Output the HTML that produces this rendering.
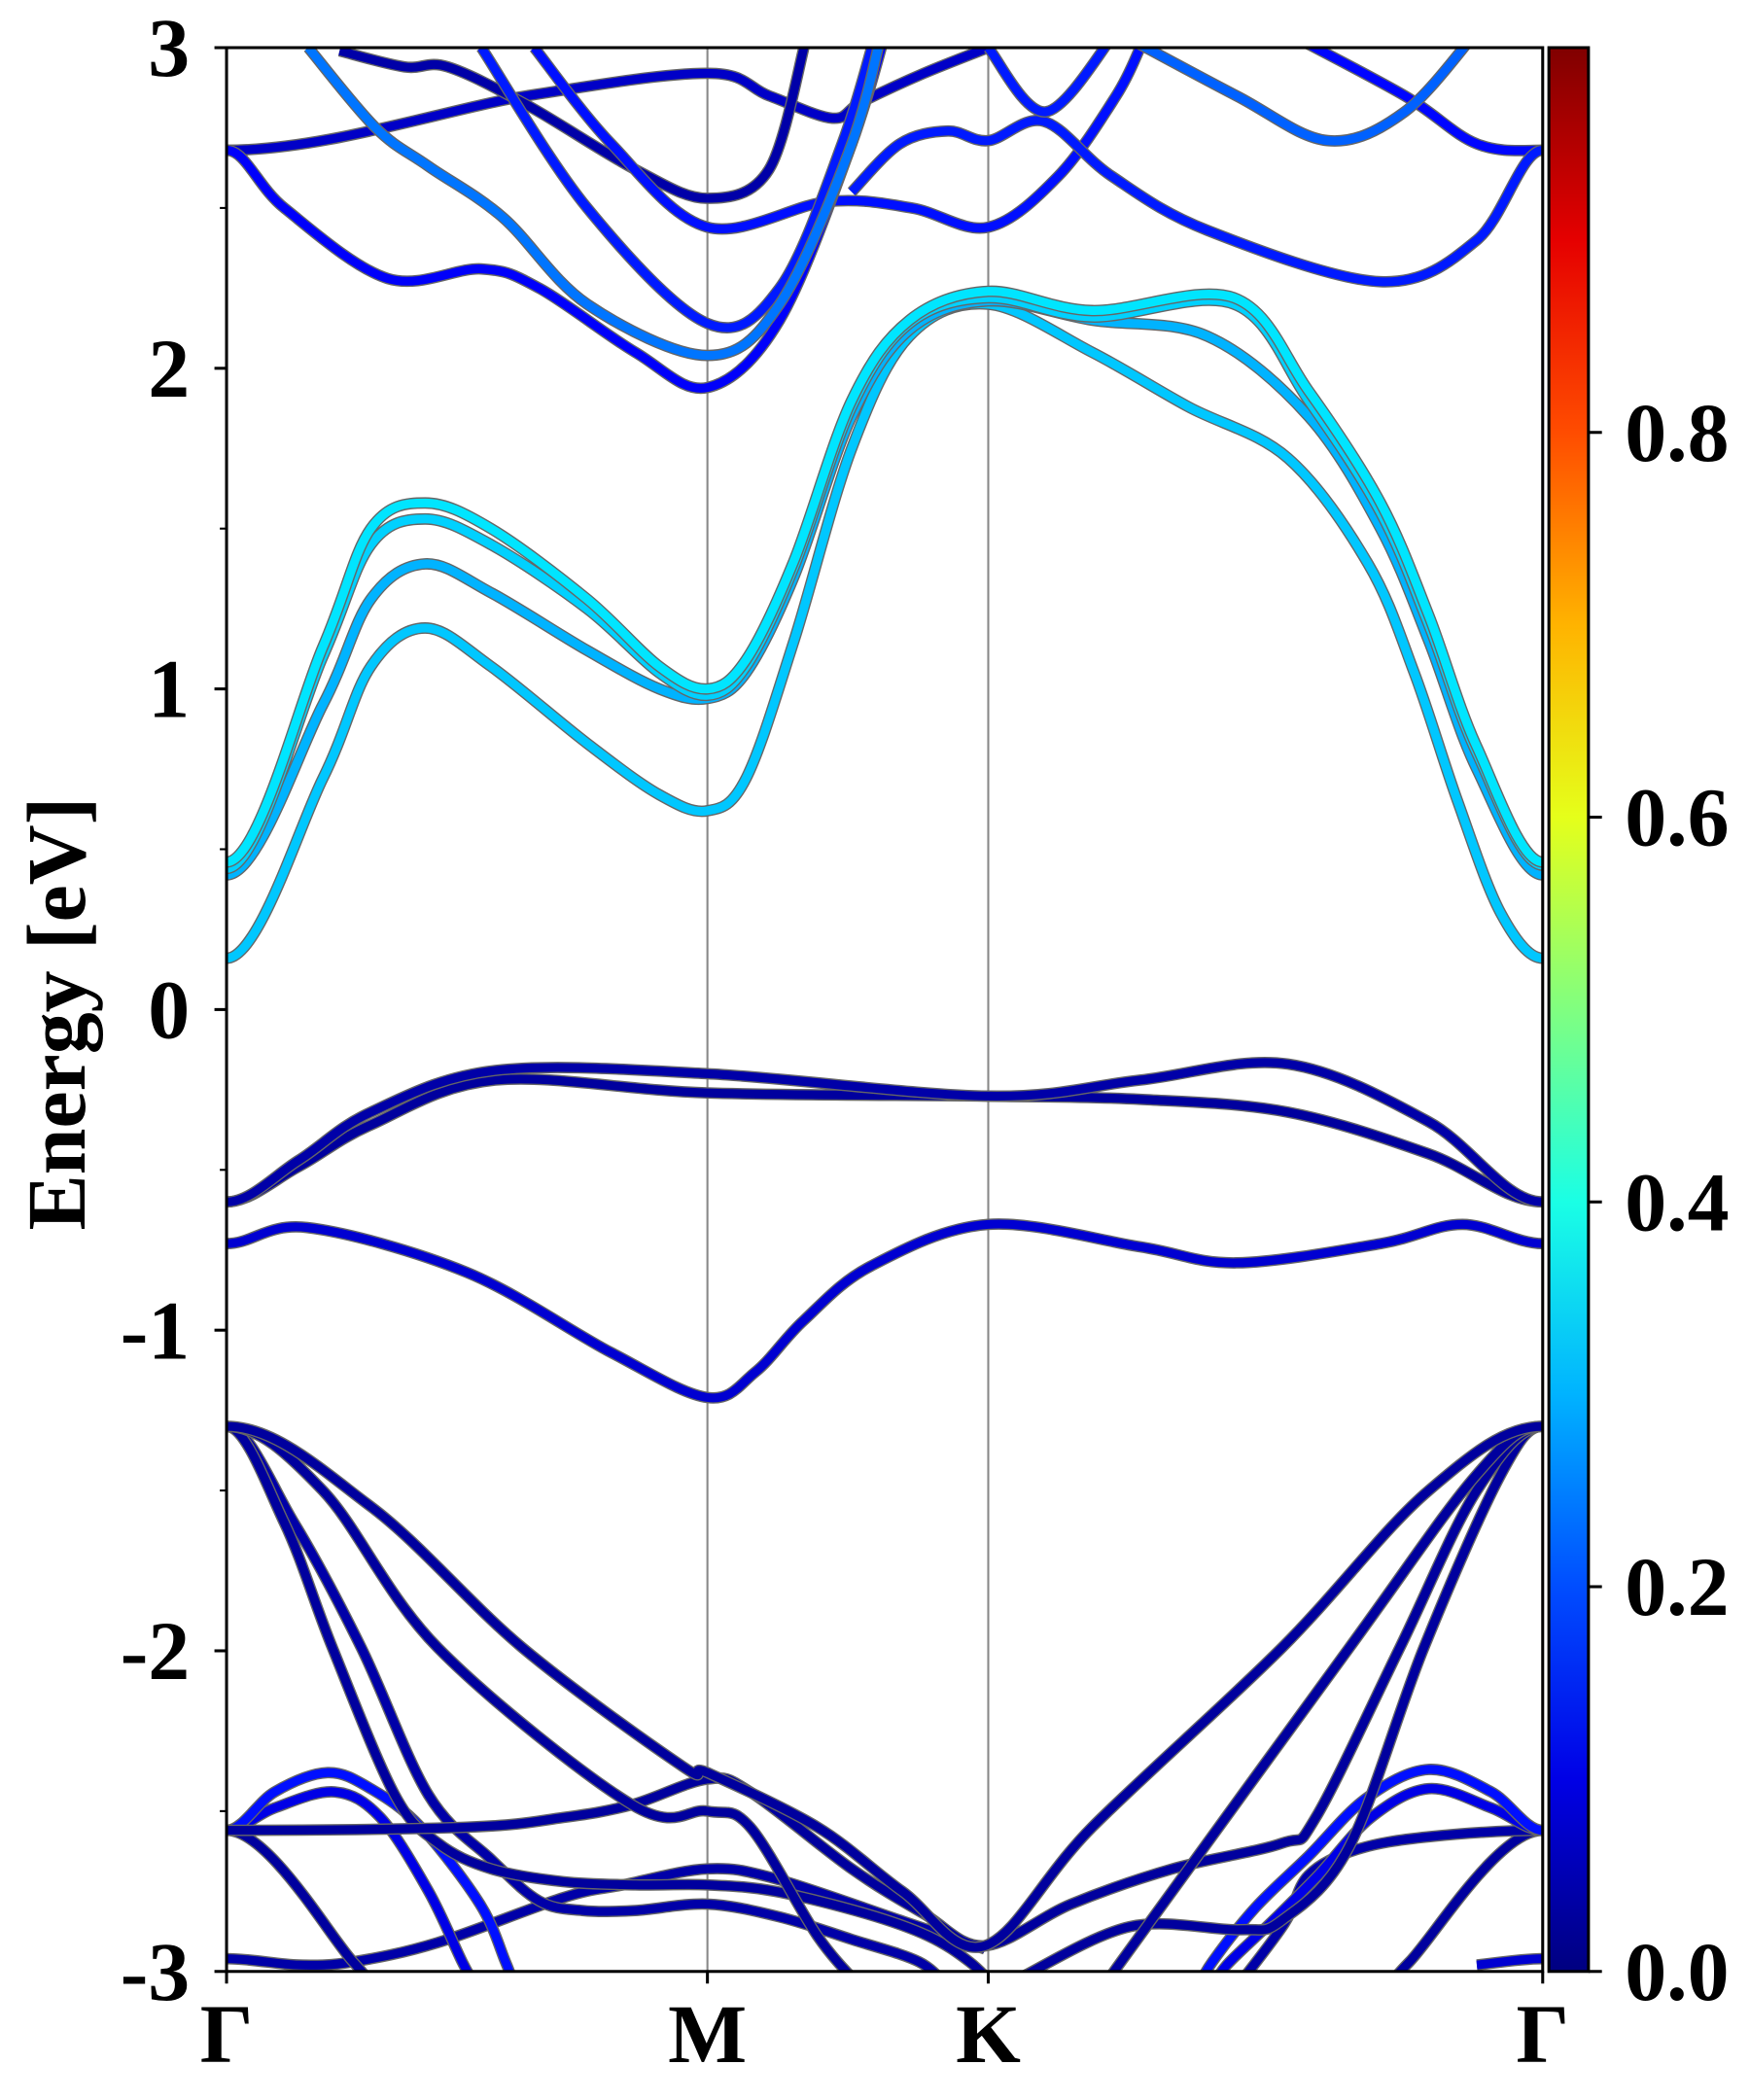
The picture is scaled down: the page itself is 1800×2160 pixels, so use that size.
<!DOCTYPE html>
<html><head><meta charset="utf-8"><style>
html,body{margin:0;padding:0;background:#fff;}
svg{display:block;}
text{font-family:"Liberation Serif",serif;font-weight:bold;fill:#000;}
</style></head><body>
<svg id="chart" width="1800" height="2160" viewBox="0 0 1300 1560" xmlns="http://www.w3.org/2000/svg">
<defs>
<clipPath id="clip"><rect x="168.3" y="35.4" width="977.7" height="1429.1"/></clipPath>
<linearGradient id="jet" x1="0" y1="1" x2="0" y2="0"></linearGradient>
</defs>
<g id="bands" clip-path="url(#clip)"></g>
<g id="axes"></g>
</svg>
<script>
const kTicks=[0,1,1.584,2.737];
const kLabels=["Γ","M","K","Γ"];
const eTicks=[3,2,1,0,-1,-2,-3];
const eTickLabels=["3","2","1","0","-1","-2","-3"];
const cbTicks=[0,0.2,0.4,0.6,0.8];
const cbTickLabels=["0.0","0.2","0.4","0.6","0.8"];
// conduction bands
const kC1=[0,0.2,0.3,0.413,0.55,0.75,0.9,1,1.08,1.18,1.3,1.42,1.584,1.8,2.0,2.207,2.374,2.47,2.56,2.65,2.737];
const c1E=[0.16,0.72,1.07,1.19,1.07,0.83,0.67,0.62,0.72,1.15,1.75,2.1,2.2,2.05,1.88,1.72,1.39,1.05,0.65,0.3,0.16];
const kC2=[0,0.2,0.3,0.413,0.55,0.75,0.9,1,1.08,1.18,1.3,1.42,1.584,1.8,2.04,2.25,2.4,2.5,2.6,2.737];
const c2E=[0.42,0.95,1.28,1.39,1.3,1.12,1.0,0.97,1.05,1.35,1.85,2.12,2.21,2.15,2.1,1.85,1.5,1.15,0.75,0.42];
const kC3=[0,0.2,0.3,0.413,0.55,0.75,0.9,1,1.08,1.18,1.3,1.42,1.584,1.8,2.095,2.25,2.4,2.5,2.6,2.737];
const c3E=[0.44,1.1,1.45,1.53,1.45,1.25,1.05,0.98,1.07,1.38,1.88,2.14,2.22,2.16,2.2,1.9,1.55,1.2,0.8,0.45];
const c4E=[0.46,1.13,1.5,1.58,1.5,1.28,1.07,1.0,1.09,1.4,1.9,2.15,2.24,2.18,2.22,1.93,1.58,1.23,0.82,0.46];
// valence
const kV=[0,0.15,0.3,0.559,1,1.584,1.9,2.207,2.5,2.737];
const v1E=[-0.6,-0.47,-0.32,-0.19,-0.2,-0.27,-0.22,-0.17,-0.35,-0.6];
const v2E=[-0.6,-0.49,-0.36,-0.22,-0.26,-0.27,-0.28,-0.32,-0.45,-0.6];
const kV3=[0,0.168,0.5,0.8,1,1.1,1.2,1.34,1.584,1.9,2.1,2.4,2.57,2.737];
const v3E=[-0.73,-0.68,-0.82,-1.07,-1.21,-1.13,-0.97,-0.8,-0.67,-0.74,-0.79,-0.73,-0.67,-0.73];
// deep bands
const kDa=[0,0.3,0.615,0.948,1,1.229,1.405,1.577,1.8,2.195,2.5,2.737];
const daE=[-1.3,-1.55,-1.99,-2.36,-2.38,-2.55,-2.75,-2.92,-2.55,-1.99,-1.5,-1.3];
const kDb=[0,0.2,0.439,0.843,1,1.089,1.229,1.32];
const dbE=[-1.3,-1.5,-1.99,-2.48,-2.5,-2.55,-2.89,-3.05];
const kDbR=[1.8,1.86,2.335,2.6,2.737];
const dbRE=[-3.1,-2.97,-1.99,-1.45,-1.3];
const kDc=[0,0.12,0.22,0.35,0.44,0.55,0.7,0.85,1,1.14,1.33,1.46,1.545,1.6];
const dcE=[-1.3,-1.6,-1.99,-2.45,-2.6,-2.68,-2.72,-2.73,-2.73,-2.75,-2.82,-2.89,-2.97,-3.05];
const kDd=[0,0.14,0.28,0.42,0.55,0.65,0.74,0.85,1,1.15,1.3,1.44,1.5];
const ddE=[-1.3,-1.6,-1.99,-2.45,-2.65,-2.78,-2.81,-2.81,-2.79,-2.83,-2.9,-2.97,-3.05];
const kF=[0,0.5,0.7,0.843,1,1.089,1.3,1.45,1.577,1.756,1.967,2.195,2.265,2.44,2.6,2.737];
const fE=[-2.56,-2.55,-2.52,-2.48,-2.4,-2.44,-2.68,-2.82,-2.92,-2.79,-2.68,-2.6,-2.52,-1.99,-1.5,-1.3];
const kDe=[1.65,1.879,2.107,2.195,2.335,2.49,2.65,2.737];
const deE=[-3.02,-2.86,-2.87,-2.84,-2.61,-1.99,-1.45,-1.3];
const kFR=[2.737,2.5,2.35,2.25,2.2,2.1];
const fRE=[-2.56,-2.58,-2.62,-2.7,-2.85,-3.05];
const kG=[0,0.263,0.3];
const gE=[-2.56,-2.97,-3.05];
const kGR=[2.737,2.46,2.42];
const gRE=[-2.56,-2.97,-3.05];
const kLow=[0,0.15,0.263,0.439,0.7,0.825,1,1.14,1.4,1.577];
const lowE=[-2.96,-2.98,-2.97,-2.91,-2.77,-2.73,-2.68,-2.71,-2.84,-2.93];
const kLowR=[2.6,2.737];
const lowRE=[-2.98,-2.96];
const kB1=[0,0.1,0.21,0.3,0.404,0.527,0.58,0.6];
const b1E=[-2.56,-2.44,-2.38,-2.43,-2.55,-2.79,-2.97,-3.05];
const kB1b=[0,0.1,0.225,0.32,0.42,0.49,0.52];
const b1bE=[-2.56,-2.49,-2.44,-2.52,-2.75,-2.97,-3.05];
const kB2=[2.737,2.63,2.5,2.37,2.25,2.14,2.05,2.02];
const b2E=[-2.56,-2.44,-2.37,-2.46,-2.64,-2.8,-2.97,-3.05];
const kB2b=[2.737,2.63,2.5,2.38,2.27,2.17,2.08,2.05];
const b2bE=[-2.56,-2.49,-2.43,-2.52,-2.7,-2.85,-2.98,-3.05];
// upper bands
const kH1=[0,0.12,0.335,0.53,0.65,0.85,1,1.15,1.3,1.38];
const h1E=[2.68,2.5,2.28,2.31,2.25,2.05,1.94,2.15,2.7,3.1];
const kH2=[0.17,0.31,0.42,0.575,0.75,1,1.15,1.3,1.37];
const h2E=[3.0,2.75,2.63,2.47,2.2,2.04,2.2,2.7,3.1];
const kH3=[0.53,0.75,1,1.15,1.28,1.36];
const h3E=[3.0,2.5,2.14,2.25,2.7,3.1];
const kHB=[0.235,0.37,0.46,0.626,0.85,1,1.128,1.204];
const hbE=[2.99,2.94,2.94,2.82,2.62,2.53,2.62,3.02];
const kHC=[0,0.626,1,1.128,1.26,1.32,1.45,1.584];
const hcE=[2.68,2.85,2.92,2.85,2.78,2.83,2.92,3.0];
const kHG=[0.64,0.8,1,1.25,1.425,1.584,1.73,1.85,1.9];
const hgE=[3.0,2.7,2.44,2.52,2.5,2.44,2.6,2.85,3.0];
const kH7=[1.3,1.4,1.5,1.584,1.7,1.84,2.04,2.4,2.6,2.737];
const h7E=[2.55,2.7,2.74,2.71,2.77,2.6,2.43,2.27,2.4,2.68];
const kH8=[1.584,1.704,1.85];
const h8E=[3.0,2.8,3.05];
const kH9=[1.85,2.1,2.29,2.45,2.6];
const h9E=[3.05,2.85,2.71,2.8,3.05];
const kH10=[2.2,2.45,2.6,2.737];
const h10E=[3.05,2.85,2.7,2.68];

const X0=168.3,X1=1146,Y0=35.4,Y1=1464.5,KMAX=2.737,EMIN=-3,EMAX=3;
function xs(k){return X0+(k/KMAX)*(X1-X0);}
function ys(e){return Y1-(e-EMIN)/(EMAX-EMIN)*(Y1-Y0);}
function cl(v){return Math.max(0,Math.min(1,v));}
function jet(v){const r=cl(1.5-Math.abs(4*v-3)),g=cl(1.5-Math.abs(4*v-2)),b=cl(1.5-Math.abs(4*v-1));
return `rgb(${Math.round(r*255)},${Math.round(g*255)},${Math.round(b*255)})`;}
const NS="http://www.w3.org/2000/svg";
function isEdge(k){return k===0||k===KMAX;}
function path(ks,es){
  const p=ks.map((k,i)=>[xs(k),ys(es[i])]);
  const n=p.length;
  let d=`M${p[0][0]},${p[0][1]}`;
  for(let i=0;i<n-1;i++){
    const b=p[i],c=p[i+1];
    let a=p[Math.max(0,i-1)],e=p[Math.min(n-1,i+2)];
    if(i===0&&isEdge(ks[0]))a=[2*b[0]-c[0],c[1]];
    if(i===n-2&&isEdge(ks[n-1]))e=[2*c[0]-b[0],b[1]];
    const c1x=b[0]+(c[0]-a[0])/6,c1y=b[1]+(c[1]-a[1])/6,c2x=c[0]-(e[0]-b[0])/6,c2y=c[1]-(e[1]-b[1])/6;
    d+=` C${c1x},${c1y} ${c2x},${c2y} ${c[0]},${c[1]}`;
  }
  return d;
}
const bandsG=document.getElementById('bands');
function band(name,ks,es,w){
  const d=path(ks,es);
  const o=document.createElementNS(NS,'path');
  o.setAttribute('d',d);o.setAttribute('fill','none');o.setAttribute('stroke','#666');o.setAttribute('stroke-width','8.5');
  
  
  bandsG.appendChild(o);
  const p=document.createElementNS(NS,'path');
  p.setAttribute('d',d);p.setAttribute('fill','none');p.setAttribute('stroke',jet(w));p.setAttribute('stroke-width','6.5');
  
  
  bandsG.appendChild(p);
}
function line(g,x1,y1,x2,y2,c,w){const l=document.createElementNS(NS,'line');
l.setAttribute('x1',x1);l.setAttribute('y1',y1);l.setAttribute('x2',x2);l.setAttribute('y2',y2);l.setAttribute('stroke',c);l.setAttribute('stroke-width',w);g.appendChild(l);return l;}
function txt(g,x,y,s,size,anchor){const t=document.createElementNS(NS,'text');t.setAttribute('x',x);t.setAttribute('y',y);t.setAttribute('font-size',size);t.setAttribute('text-anchor',anchor);t.textContent=s;g.appendChild(t);return t;}

[1,1.584].forEach(k=>{const l=line(bandsG,xs(k),Y0,xs(k),Y1,'#888','1.5');

});

band('deep-band-low',kLow,lowE,0.04);band('deep-band-low-right',kLowR,lowRE,0.08);
band('deep-band-g',kG,gE,0.03);band('deep-band-g-right',kGR,gRE,0.03);
band('flat-band-right',kFR,fRE,0.04);
band('blue-band-1b',kB1b,b1bE,0.1);band('blue-band-1',kB1,b1E,0.14);
band('blue-band-2b',kB2b,b2bE,0.1);band('blue-band-2',kB2,b2E,0.14);
band('deep-band-d',kDd,ddE,0.04);band('deep-band-c',kDc,dcE,0.03);
band('deep-band-e',kDe,deE,0.03);band('flat-band',kF,fE,0.03);
band('deep-band-b',kDb,dbE,0.03);band('deep-band-b-right',kDbR,dbRE,0.03);
band('deep-band-a',kDa,daE,0.03);
band('valence-band-3',kV3,v3E,0.08);band('valence-band-2',kV,v2E,0.03);band('valence-band-1',kV,v1E,0.04);
band('upper-band-c',kHC,hcE,0.07);band('upper-band-b',kHB,hbE,0.04);
band('upper-band-g',kHG,hgE,0.14);band('upper-band-10',kH10,h10E,0.13);
band('upper-band-1',kH1,h1E,0.12);band('upper-band-3',kH3,h3E,0.15);band('upper-band-2',kH2,h2E,0.24);
band('upper-band-7',kH7,h7E,0.15);band('upper-band-8',kH8,h8E,0.15);band('upper-band-9',kH9,h9E,0.22);
band('conduction-band-1',kC1,c1E,0.32);band('conduction-band-2',kC2,c2E,0.3);band('conduction-band-3',kC3,c3E,0.33);band('conduction-band-4',kC3,c4E,0.35);

const ax=document.getElementById('axes');
const fr=document.createElementNS(NS,'rect');
fr.setAttribute('x',X0);fr.setAttribute('y',Y0);fr.setAttribute('width',X1-X0);fr.setAttribute('height',Y1-Y0);
fr.setAttribute('fill','none');fr.setAttribute('stroke','#000');fr.setAttribute('stroke-width','2.2');


ax.appendChild(fr);
eTicks.forEach((e,i)=>{line(ax,X0-9,ys(e),X0,ys(e),'#000',2.2);
const t=txt(ax,141,ys(e)+21,eTickLabels[i],62,'end');


if(i<eTicks.length-1)line(ax,X0-5,ys(e-0.5),X0,ys(e-0.5),'#000',1.5);});
kTicks.forEach((k,i)=>{line(ax,xs(k),Y1,xs(k),Y1+9,'#000',2.2);
const t=txt(ax,xs(k),1532,kLabels[i],62,'middle');

});
const yt=txt(ax,0,0,'Energy [eV]',62,'middle');
yt.setAttribute('transform','translate(63,753) rotate(-90)');



const grad=document.getElementById('jet');
for(let i=0;i<=10;i++){const s=document.createElementNS(NS,'stop');s.setAttribute('offset',i/10);s.setAttribute('stop-color',jet(i/10));grad.appendChild(s);}
const CB0=1150.6,CB1=1180;
const cb=document.createElementNS(NS,'rect');
cb.setAttribute('x',CB0);cb.setAttribute('y',Y0);cb.setAttribute('width',CB1-CB0);cb.setAttribute('height',Y1-Y0);
cb.setAttribute('fill','url(#jet)');cb.setAttribute('stroke','#000');cb.setAttribute('stroke-width','2.2');


ax.appendChild(cb);
cbTicks.forEach((v,i)=>{const y=Y1-v*(Y1-Y0);line(ax,CB1,y,CB1+10,y,'#000',2.2);
const t=txt(ax,1207,y+21,cbTickLabels[i],62,'start');

});
</script>
</body></html>
